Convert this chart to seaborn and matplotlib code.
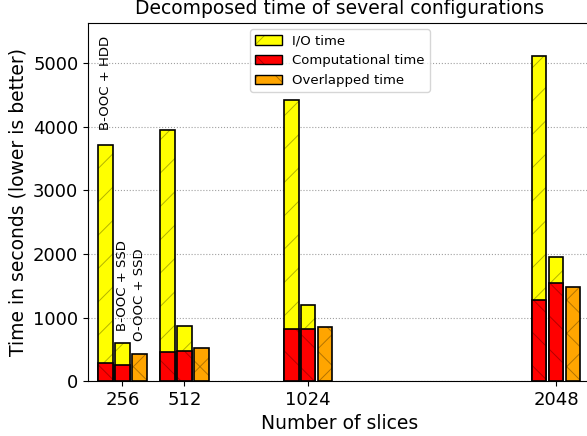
import pandas as pd
import numpy as np
import matplotlib
matplotlib.use("Agg")
import matplotlib.pyplot as plt
import seaborn as sns
from matplotlib.patches import Patch

slices = [256, 512, 1024, 2048]
configs = ["B-OOC + HDD", "B-OOC + SSD", "O-OOC + SSD"]

# values (seconds)
hdd_total = [3722, 3957, 4429, 5115]
hdd_comp = [288, 461, 818, 1274]
ssd_total = [593, 865, 1200, 1955]
ssd_comp = [252, 477, 818, 1541]
overlapped = [424, 514, 844, 1473]

offset = 70
bar_w = 60
hatch_col = (0, 0, 0, 0.3)

sns.set_style("ticks")
plt.rcParams["hatch.linewidth"] = 0.7
for k in ["text.color", "axes.labelcolor", "xtick.color", "ytick.color", "axes.edgecolor"]:
    plt.rcParams[k] = "black"

fig = plt.figure(figsize=(5.87, 4.36), dpi=100)
ax = fig.add_axes([0.150, 0.126, 0.8586, 0.822])

pos_hdd = [s - offset for s in slices]
pos_ssd = list(slices)
pos_ovl = [s + offset for s in slices]

stacked = pd.DataFrame({
    "pos": pos_hdd + pos_ssd,
    "total": hdd_total + ssd_total,
    "comp": hdd_comp + ssd_comp,
})
ovl = pd.DataFrame({"pos": pos_ovl, "value": overlapped})


def rel_width(pos):
    # seaborn scales native widths by the smallest gap between x values
    return bar_w / np.min(np.diff(sorted(set(pos))))


common = dict(native_scale=True, edgecolor="black", linewidth=1.2,
              errorbar=None, saturation=1, ax=ax)
w_st = rel_width(stacked["pos"])
sns.barplot(data=stacked, x="pos", y="total", color="#ffff00", width=w_st,
            hatch="/", **common)
sns.barplot(data=stacked, x="pos", y="comp", color="#ff0000", width=w_st,
            hatch="\\", **common)
sns.barplot(data=ovl, x="pos", y="value", color="#ffa500",
            width=rel_width(ovl["pos"]), hatch="x", **common)

for p in ax.patches:
    p._hatch_color = hatch_col

# configuration labels over the first group
ax.text(pos_hdd[0], hdd_total[0] + 230, configs[0], rotation=90,
        ha="center", va="bottom", fontsize=9.5)
ax.text(pos_ssd[0], ssd_total[0] + 200, configs[1], rotation=90,
        ha="center", va="bottom", fontsize=9.5)
ax.text(pos_ovl[0], overlapped[0] + 200, configs[2], rotation=90,
        ha="center", va="bottom", fontsize=9.5)

ax.set_xlim(114, 2197)
ax.set_ylim(0, 5640)
ax.set_xticks(slices)
ax.set_xticklabels([str(s) for s in slices], fontsize=13)
ax.set_yticks(range(0, 6000, 1000))
ax.tick_params(axis="y", labelsize=13)
ax.yaxis.grid(True, linestyle=":", color="#a0a0a0", linewidth=0.8)
ax.set_axisbelow(True)

ax.set_xlabel("Number of slices", fontsize=13.5)
ax.set_ylabel("Time in seconds (lower is better)", fontsize=13.5)
ax.set_title("Decomposed time of several configurations", fontsize=13.5)

handles = [
    Patch(facecolor="#ffff00", edgecolor="black", hatch="/", label="I/O time"),
    Patch(facecolor="#ff0000", edgecolor="black", hatch="\\", label="Computational time"),
    Patch(facecolor="#ffa500", edgecolor="black", hatch="x", label="Overlapped time"),
]
leg = ax.legend(handles=handles, loc="upper center", fontsize=9.5, frameon=True)
for h in leg.legend_handles:
    h._hatch_color = hatch_col

fig.savefig("out.png", dpi=100)
